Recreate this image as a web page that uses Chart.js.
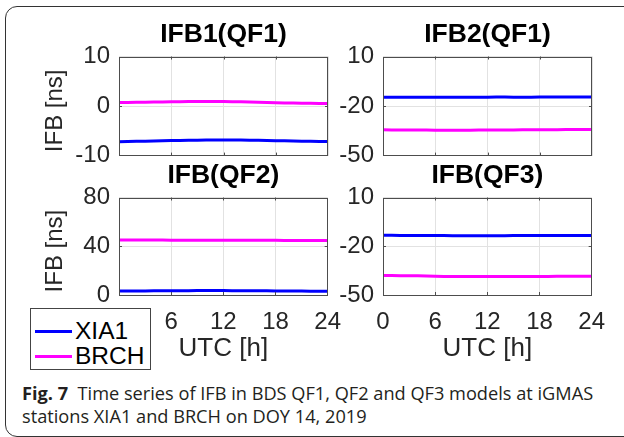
<!DOCTYPE html>
<html><head><meta charset="utf-8">
<script src="https://cdn.jsdelivr.net/npm/chart.js@4/dist/chart.umd.min.js"></script>
<style>
html,body{margin:0;padding:0;background:#fff;width:624px;height:437px;overflow:hidden;position:relative;font-family:"Liberation Sans",Arial,sans-serif;}
.frame{position:absolute;left:5px;top:6px;width:640px;height:431px;border:1.5px solid #333;border-radius:12px;box-sizing:border-box;}
canvas{position:absolute;}
#legend{position:absolute;left:30px;top:308px;width:121px;height:62px;border:1px solid #444;background:#fff;box-sizing:border-box;z-index:5;}
#legend .row{position:absolute;left:0;height:28px;line-height:28px;width:120px;font-size:24.5px;color:#000;}
#legend .ln{position:absolute;left:4px;width:37px;height:2.5px;top:13px;}
#legend .tx{position:absolute;left:44px;top:0;}
#caption{position:absolute;left:22px;top:382px;font-family:"Open Sans",sans-serif;font-size:18.2px;line-height:23px;color:#231f20;white-space:nowrap;z-index:6;}
</style></head>
<body>
<div class="frame"></div>
<canvas id="c1"></canvas>
<canvas id="c2"></canvas>
<canvas id="c3"></canvas>
<canvas id="c4"></canvas>
<div id="legend">
  <div class="row" style="top:8px"><span class="ln" style="background:#0000ff"></span><span class="tx">XIA1</span></div>
  <div class="row" style="top:33px"><span class="ln" style="background:#ff00ff"></span><span class="tx">BRCH</span></div>
</div>
<div id="caption"><b>Fig. 7</b>&nbsp; Time series of IFB in BDS QF1, QF2 and QF3 models at iGMAS<br>stations XIA1 and BRCH on DOY 14, 2019</div>
<script>
// ---- data ----
const hours = [0,1,2,3,4,5,6,7,8,9,10,11,12,13,14,15,16,17,18,19,20,21,22,23,24];
const xTicks = [0,6,12,18,24];
const seriesNames = ['XIA1','BRCH'];
const panelTitles = ['IFB1(QF1)','IFB2(QF1)','IFB(QF2)','IFB(QF3)'];

const ifb1qf1_XIA1 = [-7.2,-7.15,-7.1,-7.1,-7.05,-7.0,-6.95,-6.95,-6.9,-6.9,-6.85,-6.85,-6.85,-6.85,-6.85,-6.9,-6.9,-6.95,-7.0,-7.0,-7.05,-7.1,-7.1,-7.15,-7.15];
const ifb1qf1_BRCH = [0.7,0.72,0.75,0.78,0.8,0.82,0.85,0.88,0.9,0.92,0.93,0.92,0.9,0.88,0.85,0.8,0.76,0.72,0.68,0.64,0.6,0.56,0.54,0.52,0.5];
const ifb2qf1_XIA1 = [-14.6,-14.6,-14.65,-14.65,-14.6,-14.6,-14.6,-14.65,-14.65,-14.6,-14.6,-14.6,-14.6,-14.55,-14.55,-14.6,-14.6,-14.6,-14.55,-14.55,-14.5,-14.5,-14.5,-14.5,-14.5];
const ifb2qf1_BRCH = [-34.4,-34.45,-34.5,-34.5,-34.55,-34.55,-34.6,-34.6,-34.6,-34.6,-34.6,-34.55,-34.55,-34.5,-34.5,-34.45,-34.4,-34.4,-34.35,-34.3,-34.3,-34.25,-34.2,-34.2,-34.2];
const ifbqf2_XIA1 = [3.2,3.25,3.3,3.35,3.4,3.45,3.5,3.55,3.55,3.6,3.6,3.6,3.6,3.55,3.5,3.5,3.45,3.4,3.35,3.3,3.25,3.2,3.15,3.1,3.1];
const ifbqf2_BRCH = [45.1,45.1,45.1,45.1,45.05,45.05,45.0,45.0,45.0,45.0,44.95,44.95,44.9,44.9,44.9,44.9,44.85,44.85,44.85,44.8,44.8,44.8,44.8,44.75,44.75];
const ifbqf3_XIA1 = [-13.3,-13.3,-13.35,-13.35,-13.4,-13.4,-13.45,-13.45,-13.5,-13.5,-13.5,-13.5,-13.5,-13.5,-13.5,-13.45,-13.45,-13.45,-13.4,-13.4,-13.4,-13.4,-13.35,-13.35,-13.35];
const ifbqf3_BRCH = [-38.0,-38.05,-38.1,-38.15,-38.2,-38.3,-38.45,-38.55,-38.6,-38.65,-38.65,-38.65,-38.65,-38.65,-38.6,-38.6,-38.6,-38.55,-38.55,-38.55,-38.5,-38.5,-38.5,-38.5,-38.5];

const yRanges = [[-10,10,10],[-50,10,30],[0,80,40],[-50,10,30]];

// ---- drawing ----
const FONT = '"Liberation Sans", Arial, sans-serif';
const BLUE = '#0000ff', MAGENTA = '#ff00ff';

const boxPlugin = {
  id: 'box',
  afterDatasetsDraw(chart) {
    const {ctx, chartArea: a, scales: {x, y}} = chart;
    ctx.save();
    ctx.strokeStyle = '#4d4d4d';
    ctx.lineWidth = 1;
    ctx.beginPath();
    for (const v of xTicks.slice(1, -1)) {
      const px = Math.round(x.getPixelForValue(v)) + 0.5;
      ctx.moveTo(px, a.bottom); ctx.lineTo(px, a.bottom - 3);
      ctx.moveTo(px, a.top); ctx.lineTo(px, a.top + 3);
    }
    const yt = y.ticks.map(t => t.value).slice(1, -1);
    for (const v of yt) {
      const py = Math.round(y.getPixelForValue(v)) + 0.5;
      ctx.moveTo(a.left, py); ctx.lineTo(a.left + 3, py);
      ctx.moveTo(a.right, py); ctx.lineTo(a.right - 3, py);
    }
    ctx.stroke();
    ctx.strokeRect(Math.round(a.left) + 0.5, Math.round(a.top) + 0.5, Math.round(a.right - a.left) - 1, Math.round(a.bottom - a.top) - 1);
    ctx.restore();
  }
};

function pts(arr) { return hours.map((h, i) => ({x: h, y: arr[i]})); }

function config(title, blue, mag, yr, opts) {
  return {
    type: 'line',
    data: {
      datasets: [
        {label: seriesNames[0], data: pts(blue), borderColor: BLUE, borderWidth: 3, pointRadius: 0, tension: 0},
        {label: seriesNames[1], data: pts(mag), borderColor: MAGENTA, borderWidth: 3, pointRadius: 0, tension: 0}
      ]
    },
    options: {
      responsive: false, maintainAspectRatio: false, animation: false, devicePixelRatio: 1,
      layout: {padding: {left: 0, right: 16, top: 0, bottom: 0}},
      plugins: {
        legend: {display: false}, tooltip: {enabled: false},
        title: {display: true, text: title, fullSize: false, color: '#000',
          font: {family: FONT, size: 26.5, weight: 'bold', lineHeight: 1}, padding: {top: 0, bottom: 9}}
      },
      scales: {
        x: {
          type: 'linear', min: 0, max: 24,
          afterBuildTicks: s => { s.ticks = xTicks.map(v => ({value: v})); },
          ticks: {display: opts.xLabels, color: '#262626', padding: 13, font: {family: FONT, size: 24}, maxRotation: 0, autoSkip: false},
          grid: {color: '#e2e2e2', lineWidth: 1, drawTicks: false},
          border: {display: false},
          title: {display: opts.xLabels, text: 'UTC [h]', color: '#262626', font: {family: FONT, size: 26, lineHeight: 1}, padding: {top: 0, bottom: 5}},
          afterFit: s => { s.height = opts.xH; }
        },
        y: {
          type: 'linear', min: yr[0], max: yr[1],
          ticks: {stepSize: yr[2], color: '#262626', padding: 9, font: {family: FONT, size: 24}},
          grid: {color: '#e2e2e2', lineWidth: 1, drawTicks: false},
          border: {display: false},
          title: {display: opts.yTitle, text: 'IFB [ns]\u2009\u2009', color: '#262626', font: {family: FONT, size: 24, lineHeight: 1}, padding: {top: 3.5, bottom: 0}},
          afterFit: s => { s.width = opts.yW; }
        }
      }
    },
    plugins: [boxPlugin]
  };
}

function setCanvas(cv, p) {
  cv.width = p.w; cv.height = p.h;
  cv.style.width = p.w + 'px'; cv.style.height = p.h + 'px';
  cv.style.left = p.l + 'px'; cv.style.top = p.t + 'px';
}

function makePanel(id, rect, title, blue, mag, yr, opts) {
  const cv = document.getElementById(id);
  const p = {l: rect.L - opts.yW, t: rect.T - 40, w: rect.R - rect.L + opts.yW + 16, h: rect.B - rect.T + 40 + opts.xH};
  let chart = null;
  // build, measure the chart area, and rebuild until it sits on the target rectangle
  for (let k = 0; k < 4; k++) {
    if (chart) chart.destroy();
    setCanvas(cv, p);
    chart = new Chart(cv, config(title, blue, mag, yr, opts));
    const a = chart.chartArea;
    const dl = Math.round(rect.L - (p.l + a.left));
    const dt = Math.round(rect.T - (p.t + a.top));
    const dw = Math.round((rect.R - rect.L) - (a.right - a.left));
    const dh = Math.round((rect.B - rect.T) - (a.bottom - a.top));
    if (!dl && !dt && !dw && !dh) break;
    p.l += dl; p.t += dt; p.w += dw; p.h += dh;
  }
  return chart;
}

makePanel('c1', {L: 119, R: 328, T: 56, B: 155}, panelTitles[0], ifb1qf1_XIA1, ifb1qf1_BRCH, yRanges[0], {xLabels: false, xH: 16, yTitle: true, yW: 79});
makePanel('c2', {L: 383, R: 592, T: 56, B: 155}, panelTitles[1], ifb2qf1_XIA1, ifb2qf1_BRCH, yRanges[1], {xLabels: false, xH: 16, yTitle: false, yW: 50});
makePanel('c3', {L: 119, R: 328, T: 197, B: 294}, panelTitles[2], ifbqf2_XIA1, ifbqf2_BRCH, yRanges[2], {xLabels: true, xH: 72, yTitle: true, yW: 79});
makePanel('c4', {L: 383, R: 592, T: 197, B: 294}, panelTitles[3], ifbqf3_XIA1, ifbqf3_BRCH, yRanges[3], {xLabels: true, xH: 72, yTitle: false, yW: 50});
</script>
</body></html>
